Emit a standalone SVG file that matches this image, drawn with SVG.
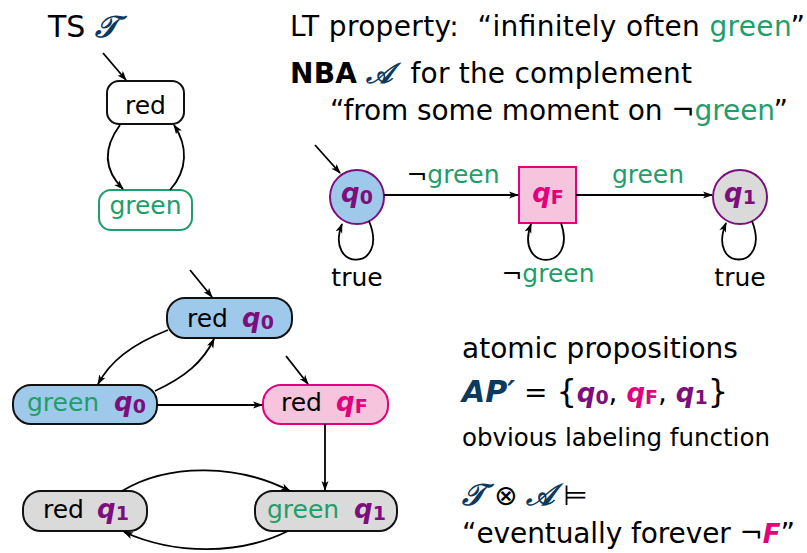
<svg xmlns="http://www.w3.org/2000/svg" width="807" height="553" viewBox="0 0 807 553">
<defs>
<marker id="ah" markerWidth="10" markerHeight="8" refX="9" refY="4" orient="auto" markerUnits="userSpaceOnUse">
<path d="M0,0.5 L10,4 L0,7.5 L2.5,4 z" fill="#000"/>
</marker>
<style>
text{font-family:"DejaVu Sans","Liberation Sans",sans-serif;font-size:28px;fill:#000}
text.n{font-size:25px}
text.t30{font-size:30px}
text.small{font-size:24.5px}
.g{fill:#1f9e6a}
.q{font-weight:bold;font-style:italic;fill:#7d0f7d;font-size:26px}
.qf{font-weight:bold;font-style:italic;fill:#e4007c;font-size:26px}
.sub{font-size:19px;font-style:normal}
.cal{font-family:"DejaVu Serif","Liberation Serif",serif;font-style:italic;font-weight:bold;fill:#0d3a5c}
.e{fill:none;stroke:#000;stroke-width:1.8;marker-end:url(#ah)}
.blue{fill:#9fc9ea;stroke:#111;stroke-width:2}
.pink{fill:#f6c4dc;stroke:#e4007c;stroke-width:2}
.gray{fill:#dadada;stroke:#111;stroke-width:2}
</style>
</defs>
<rect width="807" height="553" fill="#fff"/>

<!-- texts -->
<text x="48" y="37" class="t30">TS <tspan class="cal">𝒯</tspan></text>
<text x="290" y="36" textLength="515">LT property:&#160; “infinitely often <tspan class="g">green</tspan>”</text>
<text x="290" y="83" textLength="402"><tspan font-weight="bold">NBA</tspan> <tspan class="cal">𝒜</tspan>&#160; for the complement</text>
<text x="330" y="120" textLength="458">“from some moment on ¬<tspan class="g">green</tspan>”</text>

<!-- TS nodes -->
<g id="ts-red">
<rect x="107" y="81" width="77" height="43" rx="12" fill="#fff" stroke="#111" stroke-width="2"/>
<text x="145.5" y="114" text-anchor="middle" class="n">red</text>
</g>
<g id="ts-green">
<rect x="99" y="190" width="93" height="40" rx="12" fill="#fff" stroke="#1f9e6a" stroke-width="2"/>
<text x="145.5" y="214" text-anchor="middle" class="n g">green</text>
</g>

<!-- NBA nodes -->
<g id="nba-q0">
<circle cx="357" cy="197" r="27" fill="#9fc9ea" stroke="#7d0f7d" stroke-width="2"/>
<text x="357" y="202" text-anchor="middle" class="q">q<tspan class="sub" dy="2">0</tspan></text>
</g>
<g id="nba-qF">
<rect x="519" y="167" width="57" height="56" fill="#f6c4dc" stroke="#e4007c" stroke-width="2"/>
<text x="548" y="202" text-anchor="middle" class="qf">q<tspan class="sub" dy="2" font-style="italic">F</tspan></text>
</g>
<g id="nba-q1">
<circle cx="740" cy="197" r="27" fill="#dadada" stroke="#7d0f7d" stroke-width="2"/>
<text x="740" y="202" text-anchor="middle" class="q">q<tspan class="sub" dy="2">1</tspan></text>
</g>

<!-- product nodes -->
<g id="p-red-q0">
<rect x="167" y="298" width="125" height="40" rx="18" class="blue"/>
<text x="187" y="327" class="n">red</text>
<text x="242" y="327" class="q">q<tspan class="sub" dy="2">0</tspan></text>
</g>
<g id="p-green-q0">
<rect x="13" y="385" width="144" height="39" rx="18" class="blue"/>
<text x="27" y="411" class="n g">green</text>
<text x="114" y="411" class="q">q<tspan class="sub" dy="2">0</tspan></text>
</g>
<g id="p-red-qF">
<rect x="263" y="385" width="125" height="39" rx="18" class="pink"/>
<text x="281" y="411" class="n">red</text>
<text x="336" y="411" class="qf">q<tspan class="sub" dy="2" font-style="italic">F</tspan></text>
</g>
<g id="p-red-q1">
<rect x="23" y="491" width="124" height="40" rx="18" class="gray"/>
<text x="43" y="518" class="n">red</text>
<text x="97" y="518" class="q">q<tspan class="sub" dy="2">1</tspan></text>
</g>
<g id="p-green-q1">
<rect x="255" y="491" width="142" height="40" rx="18" class="gray"/>
<text x="267" y="518" class="n g">green</text>
<text x="354" y="518" class="q">q<tspan class="sub" dy="2">1</tspan></text>
</g>

<!-- connectors -->
<g id="connectors">
<path class="e" d="M103,53 L126,80"/>
<path class="e" d="M120,125 C103,148 104,170 123,189"/>
<path class="e" d="M170,190 C188,170 188,146 174,125"/>

<path class="e" d="M315,145 L340,173"/>
<path class="e" d="M384,195 L518,195"/>
<path class="e" d="M576,195 L712,195"/>
<path class="e" d="M369,221 C390,272 324,272 342,224"/>
<path class="e" d="M561,223 C578,272 514,272 531,224"/>
<path class="e" d="M752,221 C772,272 706,272 726,223"/>

<path class="e" d="M190,270 L212,297"/>
<path class="e" d="M168,330 C130,345 110,362 98,384"/>
<path class="e" d="M155,391 C185,377 203,362 214,339"/>
<path class="e" d="M157,405 L262,405"/>
<path class="e" d="M286,356 L308,384"/>
<path class="e" d="M325,424 L325,490"/>
<path class="e" d="M122,491 C170,462 240,465 290,491"/>
<path class="e" d="M288,531 C240,555 175,555 124,532"/>
</g>

<!-- labels -->
<text x="453" y="183" text-anchor="middle" class="n g"><tspan fill="#000">¬</tspan>green</text>
<text x="648" y="183" text-anchor="middle" class="n g">green</text>
<text x="357" y="286" text-anchor="middle" class="n">true</text>
<text x="548" y="282" text-anchor="middle" class="n g"><tspan fill="#000">¬</tspan>green</text>
<text x="740" y="286" text-anchor="middle" class="n">true</text>

<text x="462" y="358">atomic propositions</text>
<text x="462" y="402"><tspan font-weight="bold" font-style="italic" fill="#0d3a5c" font-size="30">AP′</tspan> = <tspan font-size="32">{</tspan><tspan class="q">q<tspan class="sub" dy="2">0</tspan></tspan><tspan dy="-2">, </tspan><tspan class="qf">q<tspan class="sub" dy="2" font-style="italic">F</tspan></tspan><tspan dy="-2">, </tspan><tspan class="q">q<tspan class="sub" dy="2">1</tspan></tspan><tspan dy="-2" font-size="32">}</tspan></text>
<text x="462" y="446" class="small">obvious labeling function</text>
<text x="462" y="505"><tspan class="cal" font-size="30">𝒯</tspan> ⊗ <tspan class="cal" font-size="30">𝒜</tspan> ⊨</text>
<text x="462" y="543" textLength="333">“eventually forever ¬<tspan class="qf" font-size="28">F</tspan>”</text>
</svg>
